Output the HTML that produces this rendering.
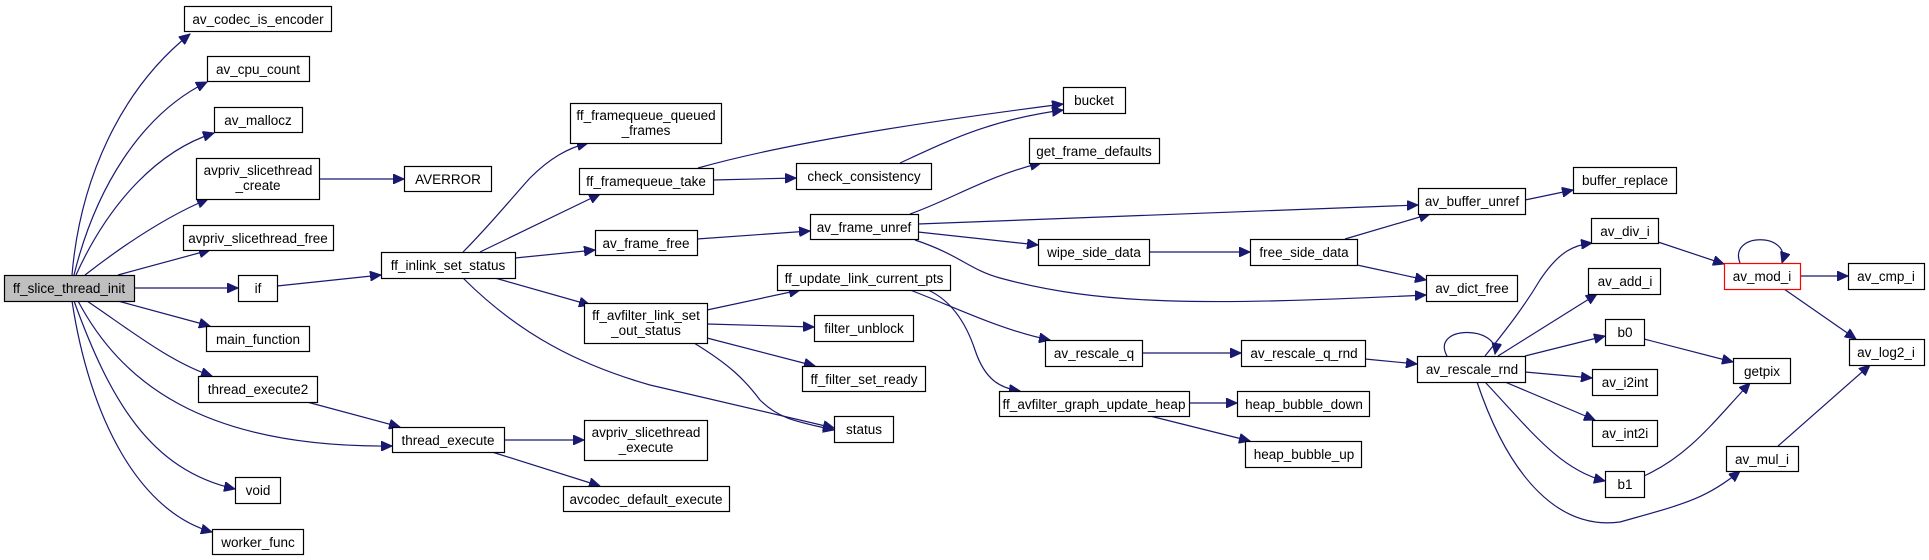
<!DOCTYPE html>
<html><head><meta charset="utf-8"><style>
html,body{margin:0;padding:0;background:#fff;}
svg{display:block;}
text{font-family:"Liberation Sans",Arial,sans-serif;font-size:13.5px;fill:#000;text-anchor:middle;}
.n{fill:#fff;stroke:#000;stroke-width:1.2;}
.e{fill:none;stroke:#191970;stroke-width:1.2;marker-end:url(#a);}
</style></head><body>
<svg width="1929" height="560" viewBox="0 0 1929 560" xmlns="http://www.w3.org/2000/svg">
<defs><marker id="a" markerUnits="userSpaceOnUse" markerWidth="12" markerHeight="10" refX="11" refY="5" orient="auto"><path d="M0,0 L11,5 L0,10 Z" fill="#191970" stroke="#191970"/></marker></defs>
<g>
<path class="e" d="M72,275 C80,180 120,90 190,34"/>
<path class="e" d="M74,275 C95,190 140,115 207,82"/>
<path class="e" d="M76,275 C110,200 160,150 214,133"/>
<path class="e" d="M85,275 C130,240 170,215 208,199"/>
<path class="e" d="M118,275 L210,250"/>
<path class="e" d="M135,288 L238,288"/>
<path class="e" d="M118,301 L210,326"/>
<path class="e" d="M87,301 C130,330 170,362 212,376"/>
<path class="e" d="M78,301 C120,380 200,448 392,446"/>
<path class="e" d="M74,301 C110,400 150,470 235,489"/>
<path class="e" d="M72,301 C90,420 140,512 212,532"/>
<path class="e" d="M319,179 L404,179"/>
<path class="e" d="M277,286 L381,275"/>
<path class="e" d="M307,402 L400,427"/>
<path class="e" d="M504,440 L584,440"/>
<path class="e" d="M492,452 L600,486"/>
<path class="e" d="M463,252 C490,225 510,200 530,178 C550,158 568,148 588,143"/>
<path class="e" d="M480,252 L600,194"/>
<path class="e" d="M515,258 L595,250"/>
<path class="e" d="M495,278 L590,305"/>
<path class="e" d="M463,278 C520,335 580,365 650,385 L834,428"/>
<path class="e" d="M698,168 C780,145 900,125 1063,104"/>
<path class="e" d="M900,163 C950,140 990,120 1063,110"/>
<path class="e" d="M713,180 L796,178"/>
<path class="e" d="M697,239 L810,231"/>
<path class="e" d="M910,214 C950,200 990,175 1041,163"/>
<path class="e" d="M918,224 L1418,205"/>
<path class="e" d="M918,232 L1038,245"/>
<path class="e" d="M915,240 C960,255 970,270 1000,278 C1100,305 1200,306 1426,295"/>
<path class="e" d="M1149,252 L1250,252"/>
<path class="e" d="M1345,239 L1430,214"/>
<path class="e" d="M1357,265 L1426,280"/>
<path class="e" d="M1525,200 L1573,190"/>
<path class="e" d="M707,310 L800,290"/>
<path class="e" d="M707,324 L814,327"/>
<path class="e" d="M707,338 L815,366"/>
<path class="e" d="M694,343 C730,365 745,380 760,400 C780,420 800,422 834,430"/>
<path class="e" d="M910,290 C950,305 1000,330 1050,340"/>
<path class="e" d="M928,290 C950,300 965,320 975,350 C985,380 1000,388 1020,391"/>
<path class="e" d="M1142,353 L1241,353"/>
<path class="e" d="M1365,359 L1417,364"/>
<path class="e" d="M1189,403 L1237,403"/>
<path class="e" d="M1150,416 L1250,441"/>
<path class="e" d="M1447,356 C1430,325 1500,325 1495,354"/>
<path class="e" d="M1485,356 C1510,325 1525,305 1540,280 C1560,250 1575,245 1592,243"/>
<path class="e" d="M1498,356 L1597,294"/>
<path class="e" d="M1525,356 L1605,336"/>
<path class="e" d="M1525,372 L1592,378"/>
<path class="e" d="M1505,382 L1595,420"/>
<path class="e" d="M1485,382 C1530,430 1560,470 1605,481"/>
<path class="e" d="M1477,382 C1510,480 1560,530 1620,522 C1680,505 1705,500 1740,471"/>
<path class="e" d="M1644,339 L1733,362"/>
<path class="e" d="M1644,476 C1690,455 1715,420 1750,383"/>
<path class="e" d="M1658,242 L1724,264"/>
<path class="e" d="M1740,263 C1728,232 1792,232 1782,263"/>
<path class="e" d="M1800,276 L1848,276"/>
<path class="e" d="M1784,289 L1856,339"/>
<path class="e" d="M1778,446 L1870,365"/>
</g>
<g>
<rect x="4.5" y="275.5" width="130" height="26" fill="#bfbfbf" stroke="#000" stroke-width="1.2"/><text x="69" y="293">ff_slice_thread_init</text>
<rect class="n" x="184.5" y="6.5" width="147" height="25"/><text x="258" y="24">av_codec_is_encoder</text>
<rect class="n" x="207.5" y="56.5" width="102" height="25"/><text x="258" y="74">av_cpu_count</text>
<rect class="n" x="214.5" y="107.5" width="88" height="25"/><text x="258" y="125">av_mallocz</text>
<rect class="n" x="196.5" y="158.5" width="123" height="41"/><text x="258" y="175">avpriv_slicethread</text><text x="258" y="190">_create</text>
<rect class="n" x="404.5" y="166.5" width="87" height="25"/><text x="448" y="184">AVERROR</text>
<rect class="n" x="183.5" y="225.5" width="150" height="25"/><text x="258" y="243">avpriv_slicethread_free</text>
<rect class="n" x="238.5" y="275.5" width="39" height="26"/><text x="258" y="293">if</text>
<rect class="n" x="381.5" y="252.5" width="134" height="26"/><text x="448" y="270">ff_inlink_set_status</text>
<rect class="n" x="206.5" y="326.5" width="103" height="25"/><text x="258" y="344">main_function</text>
<rect class="n" x="198.5" y="376.5" width="119" height="26"/><text x="258" y="394">thread_execute2</text>
<rect class="n" x="392.5" y="427.5" width="112" height="25"/><text x="448" y="445">thread_execute</text>
<rect class="n" x="235.5" y="477.5" width="45" height="26"/><text x="258" y="495">void</text>
<rect class="n" x="212.5" y="529.5" width="91" height="25"/><text x="258" y="547">worker_func</text>
<rect class="n" x="570.5" y="103.5" width="151" height="40"/><text x="646" y="120">ff_framequeue_queued</text><text x="646" y="135">_frames</text>
<rect class="n" x="579.5" y="168.5" width="134" height="26"/><text x="646" y="186">ff_framequeue_take</text>
<rect class="n" x="595.5" y="230.5" width="102" height="25"/><text x="646" y="248">av_frame_free</text>
<rect class="n" x="584.5" y="303.5" width="123" height="40"/><text x="646" y="320">ff_avfilter_link_set</text><text x="646" y="335">_out_status</text>
<rect class="n" x="584.5" y="420.5" width="123" height="40"/><text x="646" y="437">avpriv_slicethread</text><text x="646" y="452">_execute</text>
<rect class="n" x="563.5" y="486.5" width="166" height="25"/><text x="646" y="504">avcodec_default_execute</text>
<rect class="n" x="796.5" y="163.5" width="135" height="26"/><text x="864" y="181">check_consistency</text>
<rect class="n" x="1063.5" y="87.5" width="62" height="26"/><text x="1094" y="105">bucket</text>
<rect class="n" x="1029.5" y="138.5" width="130" height="25"/><text x="1094" y="156">get_frame_defaults</text>
<rect class="n" x="810.5" y="214.5" width="108" height="25"/><text x="864" y="232">av_frame_unref</text>
<rect class="n" x="1038.5" y="239.5" width="111" height="26"/><text x="1094" y="257">wipe_side_data</text>
<rect class="n" x="1250.5" y="239.5" width="107" height="26"/><text x="1304" y="257">free_side_data</text>
<rect class="n" x="777.5" y="265.5" width="173" height="25"/><text x="864" y="283">ff_update_link_current_pts</text>
<rect class="n" x="814.5" y="315.5" width="99" height="26"/><text x="864" y="333">filter_unblock</text>
<rect class="n" x="802.5" y="366.5" width="123" height="25"/><text x="864" y="384">ff_filter_set_ready</text>
<rect class="n" x="834.5" y="416.5" width="59" height="26"/><text x="864" y="434">status</text>
<rect class="n" x="1045.5" y="340.5" width="97" height="26"/><text x="1094" y="358">av_rescale_q</text>
<rect class="n" x="1241.5" y="340.5" width="124" height="26"/><text x="1304" y="358">av_rescale_q_rnd</text>
<rect class="n" x="999.5" y="391.5" width="190" height="25"/><text x="1094" y="409">ff_avfilter_graph_update_heap</text>
<rect class="n" x="1237.5" y="391.5" width="132" height="25"/><text x="1304" y="409">heap_bubble_down</text>
<rect class="n" x="1245.5" y="441.5" width="116" height="26"/><text x="1304" y="459">heap_bubble_up</text>
<rect class="n" x="1573.5" y="167.5" width="103" height="26"/><text x="1625" y="185">buffer_replace</text>
<rect class="n" x="1418.5" y="188.5" width="107" height="26"/><text x="1472" y="206">av_buffer_unref</text>
<rect class="n" x="1426.5" y="275.5" width="91" height="26"/><text x="1472" y="293">av_dict_free</text>
<rect class="n" x="1417.5" y="356.5" width="108" height="26"/><text x="1472" y="374">av_rescale_rnd</text>
<rect class="n" x="1591.5" y="218.5" width="67" height="25"/><text x="1625" y="236">av_div_i</text>
<rect class="n" x="1588.5" y="268.5" width="72" height="26"/><text x="1625" y="286">av_add_i</text>
<rect class="n" x="1605.5" y="319.5" width="39" height="26"/><text x="1625" y="337">b0</text>
<rect class="n" x="1592.5" y="369.5" width="65" height="26"/><text x="1625" y="387">av_i2int</text>
<rect class="n" x="1592.5" y="420.5" width="65" height="26"/><text x="1625" y="438">av_int2i</text>
<rect class="n" x="1605.5" y="471.5" width="39" height="26"/><text x="1625" y="489">b1</text>
<rect class="n" x="1733.5" y="358.5" width="57" height="25"/><text x="1762" y="376">getpix</text>
<rect x="1724.5" y="263.5" width="76" height="26" fill="#fff" stroke="#ff0000" stroke-width="1.2"/><text x="1762" y="281">av_mod_i</text>
<rect class="n" x="1848.5" y="263.5" width="76" height="26"/><text x="1886" y="281">av_cmp_i</text>
<rect class="n" x="1849.5" y="339.5" width="75" height="26"/><text x="1886" y="357">av_log2_i</text>
<rect class="n" x="1726.5" y="446.5" width="72" height="25"/><text x="1762" y="464">av_mul_i</text>
</g>
</svg>
</body></html>
